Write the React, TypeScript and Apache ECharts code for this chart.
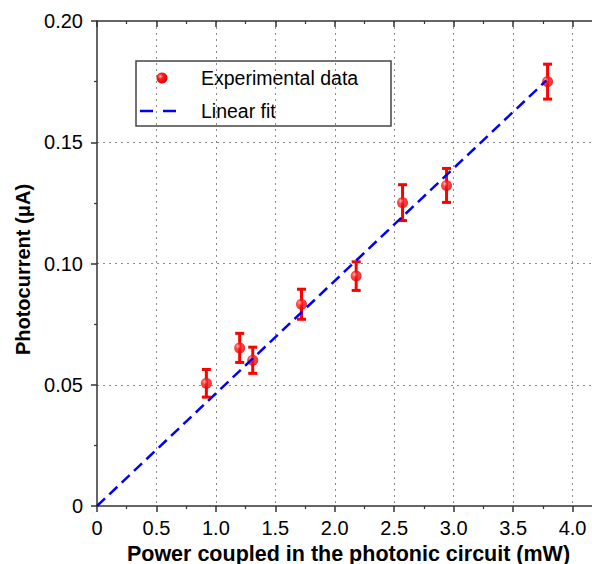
import React, { useEffect, useRef } from "react";
import * as echarts from "echarts";

const powerMW = [0.92, 1.2, 1.31, 1.72, 2.18, 2.57, 2.94, 3.79];
const currentUA = [0.0506, 0.0652, 0.0601, 0.0832, 0.0948, 0.1251, 0.1322, 0.175];
const errorUA = [0.0057, 0.006, 0.0054, 0.0062, 0.0059, 0.0074, 0.007, 0.0072];
const fitX = [0, 3.78];
const fitY = [0, 0.1755];
const legendLabels = ["Experimental data", "Linear fit"];

const FONT = "'Liberation Sans', Arial, sans-serif";

export default function App() {
  const ref = useRef<HTMLDivElement>(null);
  useEffect(() => {
    if (!ref.current) return;
    const chart = echarts.init(ref.current, undefined, { renderer: "svg" });
    const ball = new echarts.graphic.RadialGradient(0.35, 0.35, 0.7, [
      { offset: 0, color: "#ffb3b3" },
      { offset: 0.35, color: "#ff1a1a" },
      { offset: 1, color: "#e00000" },
    ]);
    const axisColor = "#333";
    const gridLine = { show: true, lineStyle: { color: "#8a8a8a", width: 1, type: [2, 4] as any } };
    const xFmt = (v: number) => (v > 4.01 ? "" : v === 0 ? "0" : v.toFixed(1));
    const yFmt = (v: number) => (v === 0 ? "0" : v.toFixed(2));
    const errData = powerMW.map((x, i) => [x, currentUA[i], errorUA[i]]);
    const scatterData = powerMW.map((x, i) => [x, currentUA[i]]);
    const fitData = fitX.map((x, i) => [x, fitY[i]]);

    chart.setOption({
      animation: false,
      backgroundColor: "#fff",
      textStyle: { fontFamily: FONT },
      grid: { left: 97, top: 21, bottom: 58, right: -40, outerBoundsMode: "none", containLabel: false },
      xAxis: [
        {
          type: "value",
          min: 0,
          max: 4.5,
          interval: 0.5,
          position: "bottom",
          axisLine: { show: true, onZero: false, lineStyle: { color: axisColor, width: 1.5 } },
          axisTick: { show: true, inside: false, length: 6, lineStyle: { color: axisColor, width: 1.5 } },
          minorTick: { show: true, splitNumber: 2, length: 3, lineStyle: { color: axisColor, width: 1.2 } },
          axisLabel: { formatter: xFmt, fontSize: 20, color: "#000", margin: 12, fontFamily: FONT },
          splitLine: { ...gridLine, showMinLine: false },
          name: "Power coupled in the photonic circuit (mW)",
          nameLocation: "middle",
          nameGap: 35,
          nameTextStyle: {
            fontWeight: "bold",
            fontSize: 21.5,
            lineHeight: 18,
            color: "#000",
            fontFamily: FONT,
            padding: [0, 32, 0, 0],
          },
        },
        {
          type: "value",
          min: 0,
          max: 4.5,
          interval: 0.5,
          position: "top",
          axisLine: { show: true, onZero: false, lineStyle: { color: axisColor, width: 1.5 } },
          axisTick: { show: true, inside: true, length: 6, lineStyle: { color: axisColor, width: 1.5 } },
          minorTick: { show: true, splitNumber: 2, length: 3, lineStyle: { color: axisColor, width: 1.2 } },
          axisLabel: { show: false },
          splitLine: { show: false },
        },
      ],
      yAxis: {
        type: "value",
        min: 0,
        max: 0.2,
        interval: 0.05,
        axisLine: { show: true, onZero: false, lineStyle: { color: axisColor, width: 1.5 } },
        axisTick: { show: true, inside: false, length: 6, lineStyle: { color: axisColor, width: 1.5 } },
        minorTick: { show: true, splitNumber: 2, length: 3, lineStyle: { color: axisColor, width: 1.2 } },
        axisLabel: { formatter: yFmt, fontSize: 20, color: "#000", margin: 14, fontFamily: FONT },
        splitLine: { ...gridLine, showMinLine: false, showMaxLine: false },
        name: "Photocurrent (μA)",
        nameLocation: "middle",
        nameGap: 64,
        nameTextStyle: {
          fontWeight: "bold",
          fontSize: 20,
          color: "#000",
          fontFamily: FONT,
          padding: [0, 12, 0, 0],
        },
      },
      series: [
        {
          type: "custom",
          name: "errors",
          xAxisIndex: 0,
          z: 2,
          data: errData,
          encode: { x: 0, y: 1 },
          renderItem: (params: any, api: any) => {
            const x = api.value(0);
            const y = api.value(1);
            const e = api.value(2);
            const top = api.coord([x, y + e]);
            const bot = api.coord([x, y - e]);
            const hw = 4.5;
            const style = { stroke: "#ff0000", lineWidth: 3 };
            return {
              type: "group",
              children: [
                { type: "line", shape: { x1: top[0], y1: top[1], x2: bot[0], y2: bot[1] }, style },
                { type: "line", shape: { x1: top[0] - hw, y1: top[1], x2: top[0] + hw, y2: top[1] }, style },
                { type: "line", shape: { x1: bot[0] - hw, y1: bot[1], x2: bot[0] + hw, y2: bot[1] }, style },
              ],
            };
          },
        },
        {
          type: "scatter",
          name: legendLabels[0],
          z: 3,
          symbol: "circle",
          symbolSize: 11,
          itemStyle: { color: ball, borderWidth: 0 },
          data: scatterData,
        },
        {
          type: "line",
          name: legendLabels[1],
          z: 4,
          showSymbol: false,
          symbol: "none",
          lineStyle: { color: "#0000ff", width: 2.5, type: [11, 6] as any },
          data: fitData,
        },
      ],
      graphic: [
        {
          type: "group",
          z: 100,
          children: [
            {
              type: "rect",
              shape: { x: 136, y: 61, width: 255, height: 65 },
              style: { fill: "#fff", stroke: "#444", lineWidth: 1.5 },
            },
            {
              type: "circle",
              shape: { cx: 162, cy: 78, r: 5.5 },
              style: { fill: ball },
            },
            {
              type: "line",
              shape: { x1: 140, y1: 111, x2: 178, y2: 111 },
              style: { stroke: "#0000ff", lineWidth: 2.5, lineDash: [13, 10] },
            },
            {
              type: "text",
              x: 201,
              y: 78,
              style: { text: legendLabels[0], fontSize: 19.5, fontFamily: FONT, fill: "#000", verticalAlign: "middle" },
            },
            {
              type: "text",
              x: 201,
              y: 111,
              style: { text: legendLabels[1], fontSize: 19.5, fontFamily: FONT, fill: "#000", verticalAlign: "middle" },
            },
          ],
        },
      ],
    });
    return () => chart.dispose();
  }, []);
  return (
    <div
      ref={ref}
      style={{ position: "fixed", left: 0, top: 0, width: 592, height: 564, overflow: "hidden" }}
    />
  );
}
